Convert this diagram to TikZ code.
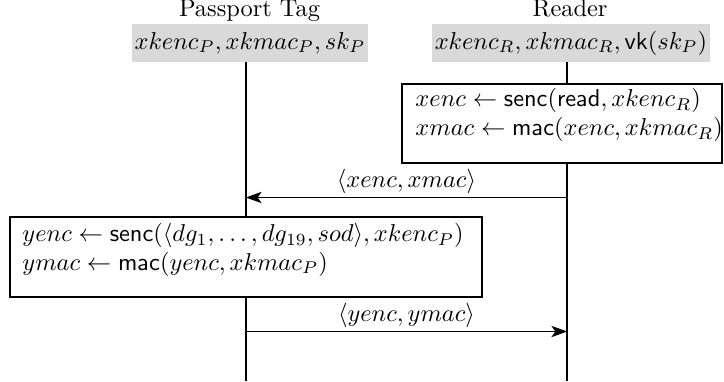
\documentclass[tikz,border=0pt]{standalone}
\usetikzlibrary{arrows.meta}
\begin{document}
\begin{tikzpicture}[x=0.41pt,y=-0.41pt,
  titletext/.style={anchor=base, inner sep=0pt},
  keybox/.style={fill=gray!30, minimum height=15.58pt, inner sep=0pt},
  lifeline/.style={line width=0.8pt},
  actbox/.style={draw, line width=0.8pt, fill=white, inner sep=0pt},
  boxline/.style={anchor=base west, inner sep=0pt, text height=7pt, text depth=2pt},
  msg/.style={line width=0.8pt, -{Stealth[length=6.5pt,width=4.6pt,inset=1.6pt]}},
  msglabel/.style={anchor=base, inner sep=0pt}]
\useasboundingbox (0,0) rectangle (724,381);
% titles
\node[titletext] (tagt) at (249.5,16.7) {Passport Tag};
\node[titletext] (readt) at (570,16.7) {Reader};
% key boxes
\node[keybox, minimum width=96.76pt] (tagk) at (250,43) {$xkenc_P, xkmac_P, sk_P$};
\node[keybox, minimum width=113.98pt] (readk) at (571,43) {$xkenc_R, xkmac_R, \mathsf{vk}(sk_P)$};
% lifelines
\coordinate (tagend) at (245.7,381);
\coordinate (readend) at (567.3,381);
\draw[lifeline] (tagk.south -| tagend) -- (tagend);
\draw[lifeline] (readk.south -| readend) -- (readend);
% reader computation box
\node[actbox, minimum width=131.2pt, minimum height=32.39pt] (rbox) at (562,123.5) {};
\node[boxline] (r1) at (415,106.8) {$xenc \leftarrow \mathsf{senc}(\mathsf{read}, xkenc_R)$};
\node[boxline] (r2) at (415,135.5) {$xmac \leftarrow \mathsf{mac}(xenc, xkmac_R)$};
% message 1
\coordinate (m1) at (0,197.5);
\draw[msg] (readend |- m1) -- (tagend |- m1);
\node[msglabel] (l1) at (406.5,187.7) {$\langle xenc, xmac\rangle$};
% passport computation box
\node[actbox, minimum width=193.52pt, minimum height=32.8pt] (pbox) at (246,257) {};
\node[boxline] (p1) at (22,241.8) {$yenc \leftarrow \mathsf{senc}(\langle dg_1,\ldots,dg_{19},sod\rangle, xkenc_P)$};
\node[boxline] (p2) at (22,270.3) {$ymac \leftarrow \mathsf{mac}(yenc, xkmac_P)$};
% message 2
\coordinate (m2) at (0,331.5);
\draw[msg] (tagend |- m2) -- (readend |- m2);
\node[msglabel] (l2) at (406.5,321.7) {$\langle yenc, ymac\rangle$};
\end{tikzpicture}
\end{document}
